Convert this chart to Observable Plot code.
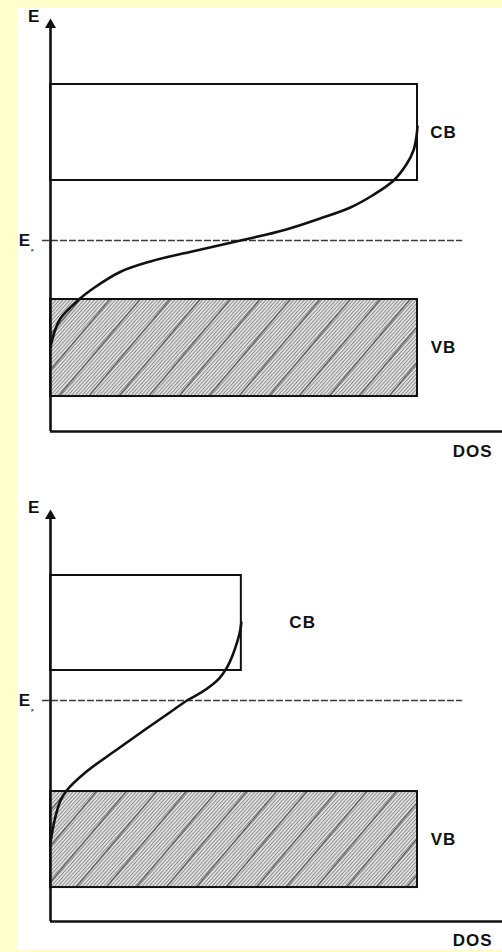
<!DOCTYPE html>
<html><head><meta charset="utf-8">
<script src="https://cdn.jsdelivr.net/npm/d3@7"></script>
<script src="https://cdn.jsdelivr.net/npm/@observablehq/plot@0.6"></script>
<style>
html,body{margin:0;padding:0;background:#ffffcc;}
#wrap{position:relative;width:502px;height:952px;overflow:hidden;}
#panel{position:absolute;left:17px;top:8px;width:485px;height:942px;background:#fff;}
#wrap svg{position:absolute;left:0;overflow:visible;}
</style></head><body><div id="wrap"><div id="panel"></div></div>
<script>
// ---- data (DOS in units of full band width, energy relative to E_F) ----
const bandNames = ["CB", "VB"];
const topBandDOS = [1.0, 1.0];
const topBandLow = [1.0, -2.6];
const topBandHigh = [2.6, -0.983];
const botBandDOS = [0.52, 1.0];
const botBandLow = [0.5, -3.117];
const botBandHigh = [2.083, -1.517];

const topCurveDOS = [0, 0.008, 0.027, 0.074, 0.123, 0.191, 0.272, 0.395, 0.518, 0.640, 0.736, 0.817, 0.877, 0.935, 0.970, 0.989, 0.997, 1.0];
const topCurveE   = [-1.78, -1.58, -1.30, -1.00, -0.77, -0.52, -0.35, -0.17, 0, 0.18, 0.37, 0.55, 0.75, 1.00, 1.27, 1.50, 1.73, 1.90];
const botCurveDOS = [0, 0.011, 0.027, 0.044, 0.095, 0.185, 0.259, 0.320, 0.372, 0.410, 0.438, 0.460, 0.479, 0.496, 0.510, 0.517, 0.520];
const botCurveE   = [-2.37, -2.0, -1.67, -1.5, -1.2, -0.8, -0.48, -0.22, 0.0, 0.13, 0.25, 0.37, 0.53, 0.75, 1.0, 1.17, 1.30];

const axisLabels = ["E", "DOS"];
const fermiLabel = ["E", "F"];

const FONT = "'Liberation Sans', Arial, Helvetica, sans-serif";
const INK = "#111";

function drawPanel(id, cfg) {
  const bands = bandNames.map((n, i) => ({name: n, dos: cfg.dos[i], low: cfg.low[i], high: cfg.high[i]}));
  const curve = cfg.cx.map((x, i) => ({dos: x, e: cfg.ce[i]}));
  const [yMin, yTip] = cfg.yDomain;
  const xMax = 1.2316;
  const vb = bands.filter(d => d.name === "VB");
  const txt = {fontFamily: FONT, fontWeight: "bold", fontSize: 17, fill: INK};
  const svg = Plot.plot({
    width: 502, height: 476,
    marginLeft: 50, marginRight: 0, marginTop: cfg.mt, marginBottom: cfg.mb,
    x: {domain: [0, xMax], axis: null},
    y: {domain: cfg.yDomain, axis: null},
    style: {background: "transparent", overflow: "visible"},
    marks: [
      Plot.rect(vb, {x1: 0, x2: "dos", y1: "low", y2: "high", fill: `url(#fine-${id})`}),
      Plot.rect(vb, {x1: 0, x2: "dos", y1: "low", y2: "high", fill: `url(#bold-${id})`}),
      Plot.ruleY([0], {x1: -0.022, x2: 1.123, stroke: "#3a3a3a", strokeWidth: 1.3, strokeDasharray: "7,2"}),
      Plot.line(curve, {x: "dos", y: "e", curve: "catmull-rom", stroke: INK, strokeWidth: 2.6}),
      Plot.rect(bands, {x1: 0, x2: "dos", y1: "low", y2: "high", fill: "none", stroke: INK, strokeWidth: 2}),
      Plot.ruleY([yMin], {x1: 0, x2: xMax, stroke: INK, strokeWidth: 2.6}),
      Plot.ruleX([0], {y1: yMin, y2: yTip - 0.12, stroke: INK, strokeWidth: 2.6}),
      Plot.dot([{dos: 0, e: yTip - 0.106}], {x: "dos", y: "e", symbol: "triangle", r: 4.1, fill: INK, stroke: "none"}),
      // labels
      Plot.text([axisLabels[0]], {x: -0.046, y: cfg.eY, text: d => d, ...txt}),
      Plot.text([fermiLabel[0]], {x: -0.071, y: 0, text: d => d, ...txt}),
      Plot.text([fermiLabel[1]], {x: -0.049, y: -0.17, text: d => d, ...txt, fontSize: 4}),
      Plot.text(bands, {x: d => d.name === "CB" ? cfg.cbX : 1.071, y: d => (d.low + d.high) / 2, text: "name", ...txt}),
      Plot.text([axisLabels[1]], {x: 1.15, y: cfg.dosY, text: d => d, ...txt})
    ]
  });
  const defs = d3.select(svg).insert("defs", ":first-child");
  const fine = defs.append("pattern").attr("id", `fine-${id}`).attr("patternUnits", "userSpaceOnUse")
    .attr("width", 3).attr("height", 2.6).attr("patternTransform", "rotate(-48)");
  fine.append("rect").attr("width", 3).attr("height", 2.6).attr("fill", "#e6e6e6");
  fine.append("rect").attr("width", 3).attr("height", 1.0).attr("fill", "#8a8a8a");
  const bold = defs.append("pattern").attr("id", `bold-${id}`).attr("patternUnits", "userSpaceOnUse")
    .attr("width", 30).attr("height", 23).attr("patternTransform", "rotate(-50)");
  bold.append("rect").attr("width", 30).attr("height", 1.3).attr("fill", "#555");
  svg.style.top = cfg.top + "px";
  d3.selectAll(svg.querySelectorAll("text")).filter(function() {
    const s = this.textContent; return s === "CB" || s === "VB" || s === "DOS";
  }).style("letter-spacing", "1px");
  document.getElementById("wrap").appendChild(svg);
}

drawPanel("a", {
  dos: topBandDOS, low: topBandLow, high: topBandHigh,
  cx: topCurveDOS, ce: topCurveE,
  yDomain: [-3.183, 3.70], mt: 18, mb: 45, top: 0,
  eY: 3.733, dosY: -3.517, cbX: 1.071
});
drawPanel("b", {
  dos: botBandDOS, low: botBandLow, high: botBandHigh,
  cx: botCurveDOS, ce: botCurveE,
  yDomain: [-3.683, 3.183], mt: 33, mb: 31, top: 476,
  eY: 3.217, dosY: -4.0, cbX: 0.687
});
</script></body></html>
